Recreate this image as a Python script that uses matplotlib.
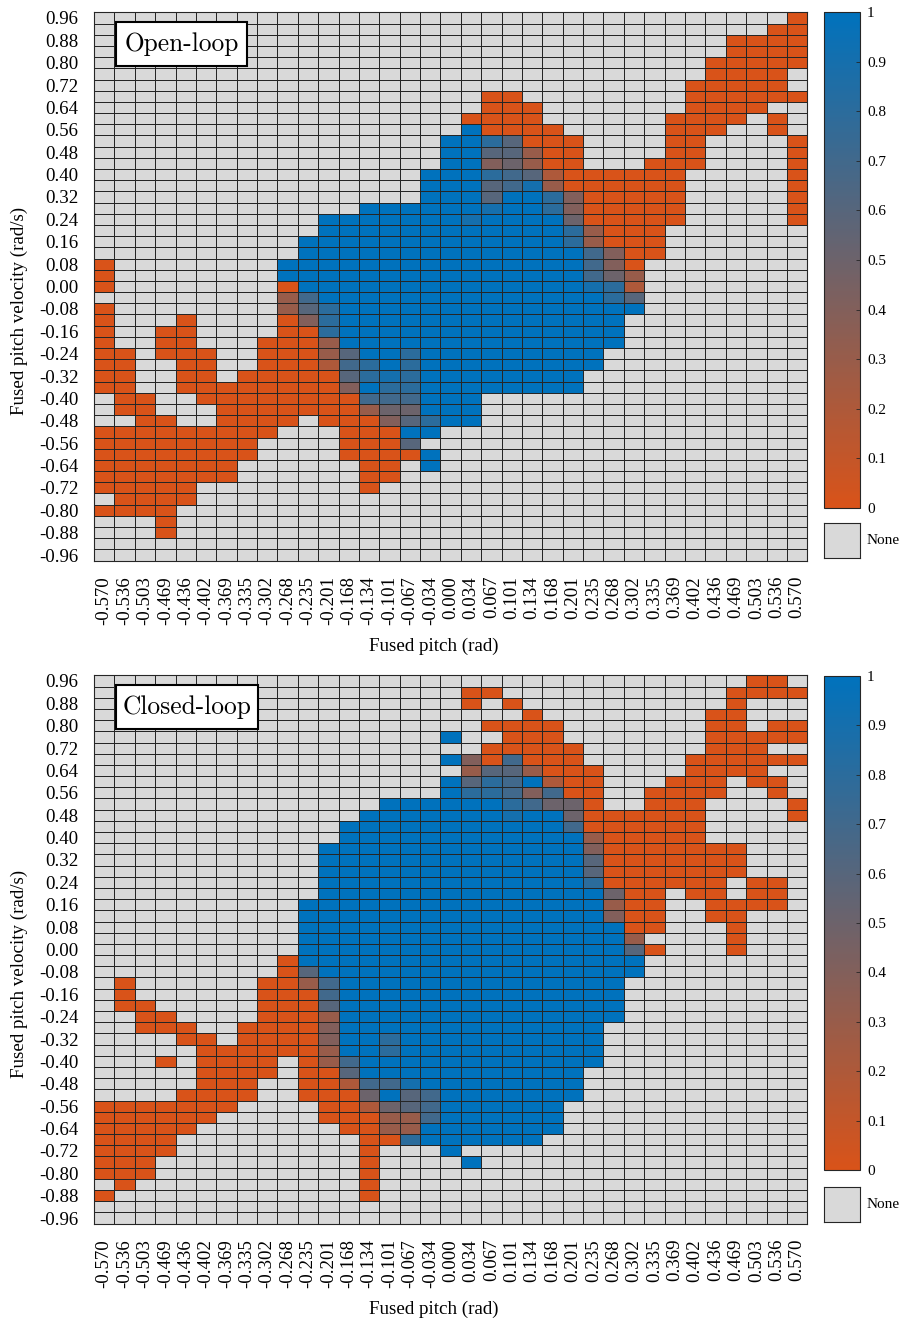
import numpy as np
import matplotlib
matplotlib.use("Agg")
import matplotlib.pyplot as plt
from matplotlib.colors import LinearSegmentedColormap
from matplotlib.patches import Rectangle
from matplotlib.cm import ScalarMappable
from matplotlib.colors import Normalize

# Axis categories
pitch_labels = ["-0.570", "-0.536", "-0.503", "-0.469", "-0.436", "-0.402", "-0.369",
                "-0.335", "-0.302", "-0.268", "-0.235", "-0.201", "-0.168", "-0.134",
                "-0.101", "-0.067", "-0.034", "0.000", "0.034", "0.067", "0.101",
                "0.134", "0.168", "0.201", "0.235", "0.268", "0.302", "0.335",
                "0.369", "0.402", "0.436", "0.469", "0.503", "0.536", "0.570"]
velocity_values = [round(0.96 - 0.04 * i, 2) for i in range(49)]
velocity_tick_labels = ["0.96", "0.88", "0.80", "0.72", "0.64", "0.56", "0.48", "0.40",
                        "0.32", "0.24", "0.16", "0.08", "0.00", "-0.08", "-0.16", "-0.24",
                        "-0.32", "-0.40", "-0.48", "-0.56", "-0.64", "-0.72", "-0.80",
                        "-0.88", "-0.96"]
colorbar_ticks = [0, 0.1, 0.2, 0.3, 0.4, 0.5, 0.6, 0.7, 0.8, 0.9, 1]
colorbar_tick_labels = ["0", "0.1", "0.2", "0.3", "0.4", "0.5", "0.6", "0.7", "0.8", "0.9", "1"]

# Cell values, one string per velocity row (top = 0.96), one char per pitch column.
# '.' = no data, 'o' = 0, 'B' = 1, digit d = d/10
open_loop = [
    "..... ..... ..... ..... ..... ..... ....o",
    "..... ..... ..... ..... ..... ..... ...oo",
    "..... ..... ..... ..... ..... ..... .oooo",
    "..... ..... ..... ..... ..... ..... .oooo",
    "..... ..... ..... ..... ..... ..... ooooo",
    "..... ..... ..... ..... ..... ..... oooo.",
    "..... ..... ..... ..... ..... ....o oooo.",
    "..... ..... ..... ....o o.... ....o ooooo",
    "..... ..... ..... ....o oo... ....o ooo..",
    "..... ..... ..... ...oo oo... ...oo oo.o.",
    "..... ..... ..... ...Bo ooo.. ...oo o..o.",
    "..... ..... ..... ..BB8 6ooo. ...oo ....o",
    "..... ..... ..... ..BB6 63oo. ...oo ....o",
    "..... ..... ..... ..BB4 53oo. ..ooo ....o",
    "..... ..... ..... .BBB8 762oo oooo. ....o",
    "..... ..... ..... .BBB6 793oo oooo. ....o",
    "..... ..... ..... .BBB6 BB84o oooo. ....o",
    "..... ..... ...BB BBBB9 BB84o oooo. ....o",
    "..... ..... .BBBB BBB9B BBB5o oooo. ....o",
    "..... ..... .BBBB BBBBB BBB83 ooo.. .....",
    "..... ..... BBBBB BBBBB BBB83 ooo.. .....",
    "..... ..... BBBBB BBBBB BBBB7 4oo.. .....",
    "o.... ....B BBBBB BBBBB BBBB7 4o... .....",
    "o.... ....B BBBBB BBBBB BBBB7 53... .....",
    "o.... ....o BBBBB BBBBB BBBB9 82... .....",
    "..... ....3 7BBBB BBBBB BBBBB 86... .....",
    "o.... ....3 68BBB BBBBB BBBBB BB... .....",
    "o...o ....o 48BBB BBBBB BBBBB B.... .....",
    "o..oo ....o o8BBB BBBBB BBBBB B.... .....",
    "o..oo ...oo o3BBB BBBBB BBBBB B.... .....",
    "oo.oo o..oo o36BB 8BBBB BBBBB ..... .....",
    "oo..o o..oo o278B 8BBBB BBBBB ..... .....",
    "oo..o o.ooo oo689 8BBBB BBBB. ..... .....",
    "oo..o ooooo oo4B8 8BBBB BBBB. ..... .....",
    ".oo.. ooooo ooo77 7BBB. ..... ..... .....",
    ".oo.. .oooo ooo35 5BBB. ..... ..... .....",
    "..oo. .oooo .ooo4 68BB. ..... ..... .....",
    "ooooo oooo. ..ooo BB... ..... ..... .....",
    "ooooo ooo.. ..ooo 6.... ..... ..... .....",
    "ooooo ooo.. ..ooo oB... ..... ..... .....",
    "ooooo oo... ...oo .B... ..... ..... .....",
    "ooooo oo... ...oo ..... ..... ..... .....",
    "ooooo ..... ...o. ..... ..... ..... .....",
    ".oooo ..... ..... ..... ..... ..... .....",
    "oooo. ..... ..... ..... ..... ..... .....",
    "...o. ..... ..... ..... ..... ..... .....",
    "...o. ..... ..... ..... ..... ..... .....",
    "..... ..... ..... ..... ..... ..... .....",
    "..... ..... ..... ..... ..... ..... .....",
]

closed_loop = [
    "..... ..... ..... ..... ..... ..... ..oo.",
    "..... ..... ..... ...oo ..... ..... .oooo",
    "..... ..... ..... ...o. o.... ..... .o...",
    "..... ..... ..... ..... .o... ..... oo...",
    "..... ..... ..... ....o ooo.. ..... oo.oo",
    "..... ..... ..... ..B.. ooo.. ..... ooooo",
    "..... ..... ..... ....o oooo. ..... ooo..",
    "..... ..... ..... ..B4o 7ooo. ....o ooooo",
    "..... ..... ..... ...36 63ooo ....o ooo..",
    "..... ..... ..... ..B68 7B2oo ...oo o.oo.",
    "..... ..... ..... ..B88 747oo ..ooo o..o.",
    "..... ..... ....B BBBBB 8755o ..ooo ....o",
    "..... ..... ...BB BBBBB 9BB5o ooooo ....o",
    "..... ..... ..BBB BBBBB BBB7o ooooo .....",
    "..... ..... ..BBB BBBBB BBBB3 ooooo .....",
    "..... ..... .BBBB BBBBB BBBB4 ooooo oo...",
    "..... ..... .BBBB BBBBB BBBB6 ooooo oo...",
    "..... ..... .BBBB BBBBB BBBB6 ooooo oo...",
    "..... ..... .BBBB BBBBB BBBB8 ooooo o.oo.",
    "..... ..... .BBBB BBBBB BBBBB 5oo.o o.oo.",
    "..... ..... BBBBB BBBBB BBBBB 3oo.. oooo.",
    "..... ..... BBBBB BBBBB BBBBB 4oo.. oo...",
    "..... ..... BBBBB BBBBB BBBBB Boo.. .o...",
    "..... ..... BBBBB BBBBB BBBBB B3... .o...",
    "..... ..... BBBBB BBBBB BBBBB B6o.. .o...",
    "..... ....o BBBBB BBBBB BBBBB BB... .....",
    "..... ....o 6BBBB BBBBB BBBBB BB... .....",
    ".o... ...oo 37BBB BBBBB BBBBB B.... .....",
    ".o... ...oo o7BBB BBBBB BBBBB B.... .....",
    ".oo.. ...oo o6BBB BBBBB BBBBB B.... .....",
    "..oo. ...oo o3BBB BBBBB BBBBB B.... .....",
    "..ooo ..ooo o4BBB BBBBB BBBBB ..... .....",
    "....o o.ooo o4BB8 BBBBB BBBBB ..... .....",
    "..... ooooo o3BB8 BBBBB BBBBB ..... .....",
    "...o. oooo. o37BB BBBBB BBBBB ..... .....",
    "..... oooo. oo6BB BBBBB BBBB. ..... .....",
    "..... ooo.. oo277 9BBBB BBBB. ..... .....",
    "....o ooo.. ooo5B 67BBB BBBB. ..... .....",
    "ooooo oo... .oo25 67BBB BBB.. ..... .....",
    "ooooo o.... .ooo3 37BBB BBB.. ..... .....",
    "ooooo ..... ..oo3 3BBBB BBB.. ..... .....",
    "oooo. ..... ...oo 8BBBB BB... ..... .....",
    "oooo. ..... ...o. ..B.. ..... ..... .....",
    "ooo.. ..... ...o. ...B. ..... ..... .....",
    "ooo.. ..... ...o. ..... ..... ..... .....",
    ".o... ..... ...o. ..... ..... ..... .....",
    "o.... ..... ...o. ..... ..... ..... .....",
    "..... ..... ..... ..... ..... ..... .....",
    "..... ..... ..... ..... ..... ..... .....",
]

panel_titles = ["Open-loop", "Closed-loop"]

ORANGE = "#D95319"
BLUE = "#0072BD"
NONE_GRAY = "#D9D9D9"
EDGE = "#262626"
SERIF = ["Liberation Serif", "DejaVu Serif"]


def decode(rows):
    grid = np.full((len(rows), len(pitch_labels)), np.nan)
    for r, line in enumerate(rows):
        cells = line.replace(" ", "")
        assert len(cells) == len(pitch_labels), (r, len(cells))
        for c, ch in enumerate(cells):
            if ch == "o":
                grid[r, c] = 0.0
            elif ch == "B":
                grid[r, c] = 1.0
            elif ch.isdigit():
                grid[r, c] = int(ch) / 10.0
    return np.ma.masked_invalid(grid)


cmap = LinearSegmentedColormap.from_list("orange_blue", [ORANGE, BLUE], N=256)
cmap.set_bad(NONE_GRAY)

W, H = 904, 1320
fig = plt.figure(figsize=(W / 100, H / 100), dpi=100)


def fx(px):
    return px / W


def fy(px):
    return 1 - px / H


panels = [
    dict(data=open_loop, top=12.4, title=panel_titles[0], box_w=131, cb_top=12, cb_bot=508,
         none_top=523),
    dict(data=closed_loop, top=675.4, title=panel_titles[1], box_w=142, cb_top=676, cb_bot=1170,
         none_top=1187),
]

ax_left, ax_right = 94, 807.3
ax_h = 548.2

for p in panels:
    grid = decode(p["data"])
    nrow, ncol = grid.shape
    ax = fig.add_axes([fx(ax_left), fy(p["top"] + ax_h), fx(ax_right - ax_left), ax_h / H])
    ax.pcolormesh(np.arange(ncol + 1), np.arange(nrow + 1), grid, cmap=cmap, vmin=0, vmax=1,
                  edgecolors=EDGE, linewidth=0.7)
    ax.set_xlim(0, ncol)
    ax.set_ylim(nrow, 0)

    ax.set_xticks(np.arange(ncol) + 0.5)
    ax.set_xticklabels(pitch_labels, rotation=90, family=SERIF, fontsize=13.6)
    ax.set_yticks(np.arange(0, nrow, 2) + 0.5)
    ax.set_yticklabels(velocity_tick_labels, family=SERIF, fontsize=13.6)
    ax.tick_params(axis="both", length=0)
    ax.tick_params(axis="x", pad=11)
    ax.tick_params(axis="y", pad=11)
    for s in ax.spines.values():
        s.set_color(EDGE)
        s.set_linewidth(0.8)

    ax.set_xlabel("Fused pitch (rad)", family=SERIF, fontsize=13.7)
    ax.set_ylabel("Fused pitch velocity (rad/s)", family=SERIF, fontsize=13.7)
    ax.xaxis.set_label_coords(0.477, -0.140)
    ax.yaxis.set_label_coords(-0.093, 0.455)

    # panel name box
    bx0 = (116 - ax_left) / (ax_right - ax_left)
    bw = p["box_w"] / (ax_right - ax_left)
    by1 = 1 - 9.6 / ax_h
    by0 = 1 - 53.6 / ax_h
    ax.add_patch(Rectangle((bx0, by0), bw, by1 - by0, transform=ax.transAxes,
                           facecolor="white", edgecolor="black", linewidth=1.5,
                           zorder=5, clip_on=False))
    ax.text(bx0 + bw / 2, (by0 + by1) / 2, p["title"], transform=ax.transAxes,
            ha="center", va="center", fontsize=18.3, family="cmr10", zorder=6)

    # colour bar
    cax = fig.add_axes([fx(824), fy(p["cb_bot"]), fx(36), (p["cb_bot"] - p["cb_top"]) / H])
    sm = ScalarMappable(norm=Normalize(0, 1), cmap=cmap)
    cb = fig.colorbar(sm, cax=cax, ticks=colorbar_ticks)
    cb.ax.set_yticklabels(colorbar_tick_labels, family=SERIF, fontsize=11)
    cb.ax.tick_params(direction="in", length=3, width=0.6, color=EDGE, pad=5)
    cb.outline.set_edgecolor(EDGE)
    cb.outline.set_linewidth(0.8)

    # "None" swatch
    nax = fig.add_axes([fx(824), fy(p["none_top"] + 35), fx(36), 35 / H])
    nax.set_facecolor(NONE_GRAY)
    nax.set_xticks([])
    nax.set_yticks([])
    for s in nax.spines.values():
        s.set_color(EDGE)
        s.set_linewidth(0.8)
    nax.text(1.17, 0.5, "None", transform=nax.transAxes, ha="left", va="center",
             family=SERIF, fontsize=11)

fig.savefig("out.png", dpi=100)
